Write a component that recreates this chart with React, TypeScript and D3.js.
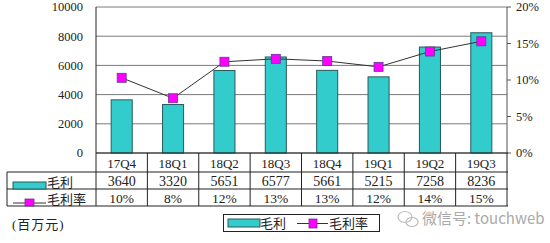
import React from "react";
import * as d3 from "d3";

const categories = ["17Q4", "18Q1", "18Q2", "18Q3", "18Q4", "19Q1", "19Q2", "19Q3"];
const grossProfit = [3640, 3320, 5651, 6577, 5661, 5215, 7258, 8236];
const grossMargin = [10.3, 7.5, 12.5, 12.9, 12.6, 11.8, 13.9, 15.3];
const marginLabels = ["10%", "8%", "12%", "13%", "13%", "12%", "14%", "15%"];
const leftTicks = [0, 2000, 4000, 6000, 8000, 10000];
const rightTicks = [0, 5, 10, 15, 20];

const W = 550;
const H = 243;
const pl = 96, pr = 507, pt = 7, pb = 153;
const rowCat = 172, row1 = 189, row2 = 206, tableLeft = 7;
const serif = "'Liberation Serif', 'Noto Sans CJK SC', serif";
const TEAL = "#33CCCC";
const MAG = "#FF00FF";

export default function App() {
  const x = d3.scaleBand<string>().domain(categories).range([pl, pr]).padding(0);
  const y = d3.scaleLinear().domain([0, 10000]).range([pb, pt]);
  const y2 = d3.scaleLinear().domain([0, 20]).range([pb, pt]);
  const bw = x.bandwidth() * 0.41;
  const cx = (c: string) => (x(c) as number) + x.bandwidth() / 2;
  const line = d3
    .line<number>()
    .x((_, i) => cx(categories[i]))
    .y((d) => y2(d));
  const ms = 9;

  return (
    <svg width={W} height={H} style={{ position: "absolute", left: 0, top: 0, background: "#fff" }}>
      <rect x={0} y={0} width={W} height={H} fill="#fff" />
      {/* gridlines */}
      {leftTicks.map((t) => (
        <line key={"g" + t} x1={pl} x2={pr} y1={y(t)} y2={y(t)} stroke="#7a7a7a" strokeWidth={1} />
      ))}
      {/* left axis labels */}
      {leftTicks.map((t) => (
        <text key={"l" + t} x={83} y={y(t)} dy="0.35em" textAnchor="end" fontFamily={serif} fontSize={12.5} fill="#222">
          {t}
        </text>
      ))}
      {/* right axis */}
      <line x1={pr} x2={pr} y1={pt} y2={pb} stroke="#555" />
      {rightTicks.map((t) => (
        <g key={"r" + t}>
          <line x1={pr} x2={pr + 4} y1={y2(t)} y2={y2(t)} stroke="#555" />
          <text x={516} y={y2(t)} dy="0.35em" fontFamily={serif} fontSize={12.5} fill="#222">
            {t + "%"}
          </text>
        </g>
      ))}
      {/* bars */}
      {grossProfit.map((v, i) => (
        <rect
          key={"b" + i}
          x={cx(categories[i]) - bw / 2}
          y={y(v)}
          width={bw}
          height={y(0) - y(v)}
          fill={TEAL}
          stroke="#2a5a5a"
          strokeWidth={1}
        />
      ))}
      {/* line */}
      <path d={line(grossMargin) || ""} fill="none" stroke="#333" strokeWidth={1} />
      {grossMargin.map((v, i) => (
        <rect
          key={"m" + i}
          x={cx(categories[i]) - ms / 2}
          y={y2(v) - ms / 2}
          width={ms}
          height={ms}
          fill={MAG}
          stroke="#663399"
          strokeWidth={0.8}
        />
      ))}
      {/* left axis line */}
      <line x1={pl} x2={pl} y1={pt} y2={row2} stroke="#222" />
      {/* table */}
      <line x1={pl} x2={pr + 1} y1={pb} y2={pb} stroke="#222" />
      <line x1={tableLeft} x2={pr + 1} y1={rowCat} y2={rowCat} stroke="#222" />
      <line x1={tableLeft} x2={pr + 1} y1={row1} y2={row1} stroke="#222" />
      <line x1={tableLeft} x2={pr + 1} y1={row2} y2={row2} stroke="#222" />
      <line x1={tableLeft} x2={tableLeft} y1={rowCat} y2={row2} stroke="#222" />
      {categories.map((c) => (
        <line key={"v" + c} x1={(x(c) as number) + x.bandwidth()} x2={(x(c) as number) + x.bandwidth()} y1={pb} y2={row2} stroke="#222" />
      ))}
      {categories.map((c) => (
        <text key={"c" + c} x={cx(c)} y={168} textAnchor="middle" fontFamily={serif} fontSize={13} fill="#222">
          {c}
        </text>
      ))}
      {grossProfit.map((v, i) => (
        <text key={"t1" + i} x={cx(categories[i])} y={186} textAnchor="middle" fontFamily={serif} fontSize={14} fill="#222">
          {v}
        </text>
      ))}
      {marginLabels.map((v, i) => (
        <text key={"t2" + i} x={cx(categories[i])} y={203} textAnchor="middle" fontFamily={serif} fontSize={13.5} fill="#222">
          {v}
        </text>
      ))}
      {/* row legends */}
      <rect x={13} y={182} width={33} height={7} fill={TEAL} stroke="#2a5a5a" />
      <text x={47} y={187} fontFamily={serif} fontSize={13} fill="#222">毛利</text>
      <line x1={13} x2={46} y1={203} y2={203} stroke="#333" />
      <rect x={25} y={199} width={9} height={7} fill={MAG} stroke="#663399" strokeWidth={0.8} />
      <text x={47} y={204} fontFamily={serif} fontSize={13} fill="#222">毛利率</text>
      {/* units */}
      <text x={12} y={229} fontFamily={serif} fontSize={13} fill="#222" letterSpacing={1}>(百万元)</text>
      {/* bottom legend */}
      <rect x={223.5} y={214.5} width={156} height={17} fill="#fff" stroke="#222" />
      <rect x={228} y={219} width={32} height={8} fill={TEAL} stroke="#2a5a5a" />
      <text x={260} y={228} fontFamily={serif} fontSize={13} fill="#222">毛利</text>
      <line x1={297} x2={328} y1={223.5} y2={223.5} stroke="#333" />
      <rect x={309} y={219} width={8} height={9} fill={MAG} stroke="#663399" strokeWidth={0.8} />
      <text x={329} y={228} fontFamily={serif} fontSize={13} fill="#222">毛利率</text>
      {/* watermark */}
      <g fill="none" stroke="#bbb" strokeWidth={1.2}>
        <ellipse cx={405} cy={217} rx={7} ry={5.5} />
        <ellipse cx={412} cy={222} rx={6} ry={4.5} />
      </g>
      <text x={422} y={224} fontFamily="'Noto Sans CJK SC', sans-serif" fontSize={15} fill="#aaa">
        微信号: touchweb
      </text>
    </svg>
  );
}
